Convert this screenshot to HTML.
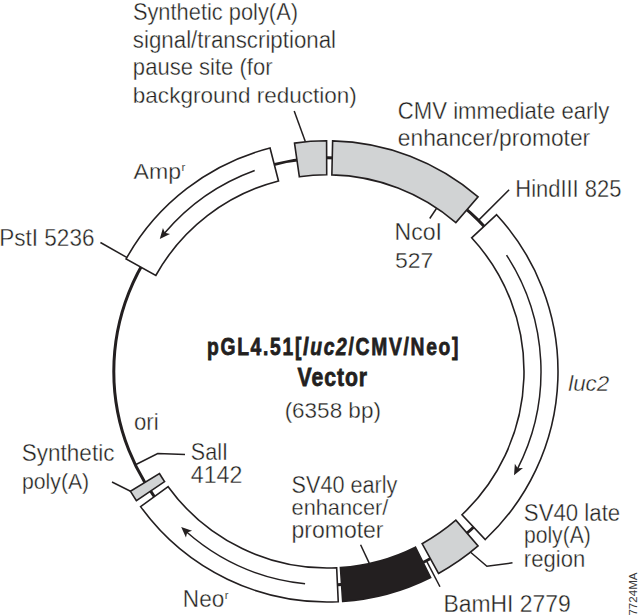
<!DOCTYPE html>
<html><head><meta charset="utf-8"><style>
html,body{margin:0;padding:0;background:#fff;}
svg{display:block;}
text{font-family:"Liberation Sans",sans-serif;fill:#231f20;stroke:#fff;stroke-width:0.35px;}
</style></head><body>
<svg width="640" height="616" viewBox="0 0 640 616">
<rect width="640" height="616" fill="#fff"/>
<circle cx="327.4" cy="371.4" r="213.6" fill="none" stroke="#231f20" stroke-width="3"/>
<line x1="141.68" y1="265.89" x2="100.46" y2="242.48" stroke="#231f20" stroke-width="1.5"/>
<line x1="478.44" y1="220.36" x2="509.13" y2="189.67" stroke="#231f20" stroke-width="1.5"/>
<line x1="426.36" y1="560.69" x2="439.98" y2="586.75" stroke="#231f20" stroke-width="1.5"/>
<line x1="429.76" y1="218.50" x2="436.77" y2="208.03" stroke="#231f20" stroke-width="1.5"/>
<polyline points="305.30,141.40 294.20,111.00" fill="none" stroke="#231f20" stroke-width="1.5" stroke-linejoin="miter"/>
<polyline points="470.60,552.30 486.90,566.30 512.50,562.80" fill="none" stroke="#231f20" stroke-width="1.5" stroke-linejoin="miter"/>
<polyline points="360.60,544.70 369.20,563.10" fill="none" stroke="#231f20" stroke-width="1.5" stroke-linejoin="miter"/>
<polyline points="112.00,482.00 131.00,491.50" fill="none" stroke="#231f20" stroke-width="1.5" stroke-linejoin="miter"/>
<polyline points="136.00,464.50 157.70,453.60 185.00,454.50" fill="none" stroke="#231f20" stroke-width="1.5" stroke-linejoin="miter"/>
<path d="M294.51,143.16 A230.6,230.6 0 0 1 326.60,140.80 L326.71,174.80 A196.6,196.6 0 0 0 299.36,176.81 Z" fill="#d1d3d4" stroke="#231f20" stroke-width="1.6" stroke-linejoin="miter"/>
<path d="M332.63,140.86 A230.6,230.6 0 0 1 478.08,196.84 L455.86,222.57 A196.6,196.6 0 0 0 331.86,174.85 Z" fill="#d1d3d4" stroke="#231f20" stroke-width="1.6" stroke-linejoin="miter"/>
<path d="M496.60,214.72 A230.6,230.6 0 0 1 485.26,539.50 L461.98,514.72 A196.6,196.6 0 0 0 471.65,237.82 Z" fill="#fff" stroke="#231f20" stroke-width="1.6" stroke-linejoin="miter"/>
<path d="M478.08,545.96 A230.6,230.6 0 0 1 438.49,573.48 L422.11,543.68 A196.6,196.6 0 0 0 455.86,520.23 Z" fill="#d1d3d4" stroke="#231f20" stroke-width="1.6" stroke-linejoin="miter"/>
<path d="M430.65,577.59 A230.6,230.6 0 0 1 342.68,601.49 L340.43,567.57 A196.6,196.6 0 0 0 415.43,547.19 Z" fill="#231f20" stroke="#231f20" stroke-width="1.6" stroke-linejoin="miter"/>
<path d="M338.26,601.74 A230.6,230.6 0 0 1 140.60,506.62 L168.15,486.68 A196.6,196.6 0 0 0 336.66,567.78 Z" fill="#fff" stroke="#231f20" stroke-width="1.6" stroke-linejoin="miter"/>
<path d="M136.45,500.68 A230.6,230.6 0 0 1 130.36,491.20 L159.41,473.54 A196.6,196.6 0 0 0 164.60,481.62 Z" fill="#d1d3d4" stroke="#231f20" stroke-width="1.6" stroke-linejoin="miter"/>
<path d="M126.10,258.90 A230.6,230.6 0 0 1 270.05,148.04 L278.51,180.98 A196.6,196.6 0 0 0 155.78,275.49 Z" fill="#fff" stroke="#231f20" stroke-width="1.6" stroke-linejoin="miter"/>
<path d="M506.54,255.07 A213.6,213.6 0 0 1 517.50,468.80" fill="none" stroke="#231f20" stroke-width="1.5"/><path d="M514.04,475.28 L514.84,463.85 L517.76,468.20 L522.99,468.12 Z" fill="#231f20"/>
<path d="M305.07,583.83 A213.6,213.6 0 0 1 186.62,532.05" fill="none" stroke="#231f20" stroke-width="1.5"/><path d="M181.18,527.11 L192.07,530.68 L187.15,532.44 L185.94,537.53 Z" fill="#231f20"/>
<path d="M254.69,170.55 A213.6,213.6 0 0 0 164.43,233.33" fill="none" stroke="#231f20" stroke-width="1.5"/><path d="M159.77,239.02 L162.94,228.00 L164.88,232.86 L170.02,233.88 Z" fill="#231f20"/>
<g id="L1" transform="translate(132.88,20.40) scale(0.9503,1)"><text x="0" y="0" font-size="23.0">Synthetic poly(A)</text></g>
<g id="L2" transform="translate(132.85,48.20) scale(0.9696,1)"><text x="0" y="0" font-size="23.0">signal/transcriptional</text></g>
<g id="L3" transform="translate(132.87,75.20) scale(0.9587,1)"><text x="0" y="0" font-size="23.0">pause site (for</text></g>
<g id="L4" transform="translate(132.83,102.60) scale(0.9796,1)"><text x="0" y="0" font-size="23.0">background reduction)</text></g>
<g id="C1" transform="translate(397.84,119.00) scale(0.9626,1)"><text x="0" y="0" font-size="23.0">CMV immediate early</text></g>
<g id="C2" transform="translate(397.81,145.80) scale(0.9901,1)"><text x="0" y="0" font-size="23.0">enhancer/promoter</text></g>
<g id="H" transform="translate(515.29,197.20) scale(0.9546,1)"><text x="0" y="0" font-size="23.0">HindIII 825</text></g>
<g id="N1" transform="translate(394.49,240.20) scale(1.0035,1)"><text x="0" y="0" font-size="23.0">NcoI</text></g>
<g id="N2" transform="translate(395.00,268.30) scale(0.9972,1)"><text x="0" y="0" font-size="23.0">527</text></g>
<g id="AMP" transform="translate(133.50,179.00) scale(1.0049,1)"><text x="0" y="0" font-size="23.0">Amp<tspan font-size="11.5" dx="0.6" dy="-8.2" style="stroke-width:0.15px">r</tspan></text></g>
<g id="PST" transform="translate(-0.75,246.10) scale(0.9803,1)"><text x="0" y="0" font-size="23.0">PstI 5236</text></g>
<g id="LUC" transform="translate(568.19,391.30) scale(1.0231,1)"><text x="0" y="0" font-size="21.8" font-style="italic">luc2</text></g>
<g id="ORI" transform="translate(134.03,429.60) scale(0.9652,1)"><text x="0" y="0" font-size="23.0">ori</text></g>
<g id="S1" transform="translate(21.83,460.70) scale(0.9783,1)"><text x="0" y="0" font-size="23.0">Synthetic</text></g>
<g id="S2" transform="translate(21.92,488.80) scale(0.9243,1)"><text x="0" y="0" font-size="23.0">poly(A)</text></g>
<g id="SAL1" transform="translate(190.87,460.20) scale(0.9361,1)"><text x="0" y="0" font-size="23.0">SalI</text></g>
<g id="SAL2" transform="translate(190.79,483.05) scale(1.0071,1)"><text x="0" y="0" font-size="23.0">4142</text></g>
<g id="E1" transform="translate(291.57,492.55) scale(0.9410,1)"><text x="0" y="0" font-size="23.0">SV40 early</text></g>
<g id="E2" transform="translate(291.57,514.70) scale(0.9470,1)"><text x="0" y="0" font-size="23.0">enhancer/</text></g>
<g id="E3" transform="translate(291.50,538.00) scale(1.0000,1)"><text x="0" y="0" font-size="23.0">promoter</text></g>
<g id="T1" transform="translate(523.85,521.30) scale(0.9660,1)"><text x="0" y="0" font-size="23.0">SV40 late</text></g>
<g id="T2" transform="translate(523.93,542.80) scale(0.9186,1)"><text x="0" y="0" font-size="23.0">poly(A)</text></g>
<g id="T3" transform="translate(523.86,566.80) scale(0.9607,1)"><text x="0" y="0" font-size="23.0">region</text></g>
<g id="BAM" transform="translate(443.41,611.60) scale(0.9968,1)"><text x="0" y="0" font-size="23.0">BamHI 2779</text></g>
<g id="NEO" transform="translate(182.85,607.40) scale(0.9818,1)"><text x="0" y="0" font-size="23.0">Neo<tspan font-size="11.5" dx="0.6" dy="-8.2" style="stroke-width:0.15px">r</tspan></text></g>
<g id="BP" transform="translate(284.63,418.10) scale(0.9781,1)"><text x="0" y="0" font-size="23.0">(6358 bp)</text></g>
<g id="TITLE" transform="translate(333.6,354.8) scale(0.78,1)"><text x="0" y="0" font-size="24.7" font-weight="bold" text-anchor="middle" letter-spacing="2.2" style="fill:#231f20;stroke:#231f20;stroke-width:0.8px">pGL4.51[<tspan font-style="italic">luc2</tspan>/CMV/Neo]</text></g>
<g id="VEC" transform="translate(332.8,386) scale(0.8,1)"><text x="0" y="0" font-size="26.5" font-weight="bold" text-anchor="middle" letter-spacing="1.2" style="fill:#231f20;stroke:#231f20;stroke-width:0.8px">Vector</text></g>
<g id="MA" transform="translate(636.8,615.6) rotate(-90) scale(1.095,1)"><text x="0" y="0" font-size="10.6" style="stroke:none;fill:#3a3a3a">7724MA</text></g>
</svg>
</body></html>
